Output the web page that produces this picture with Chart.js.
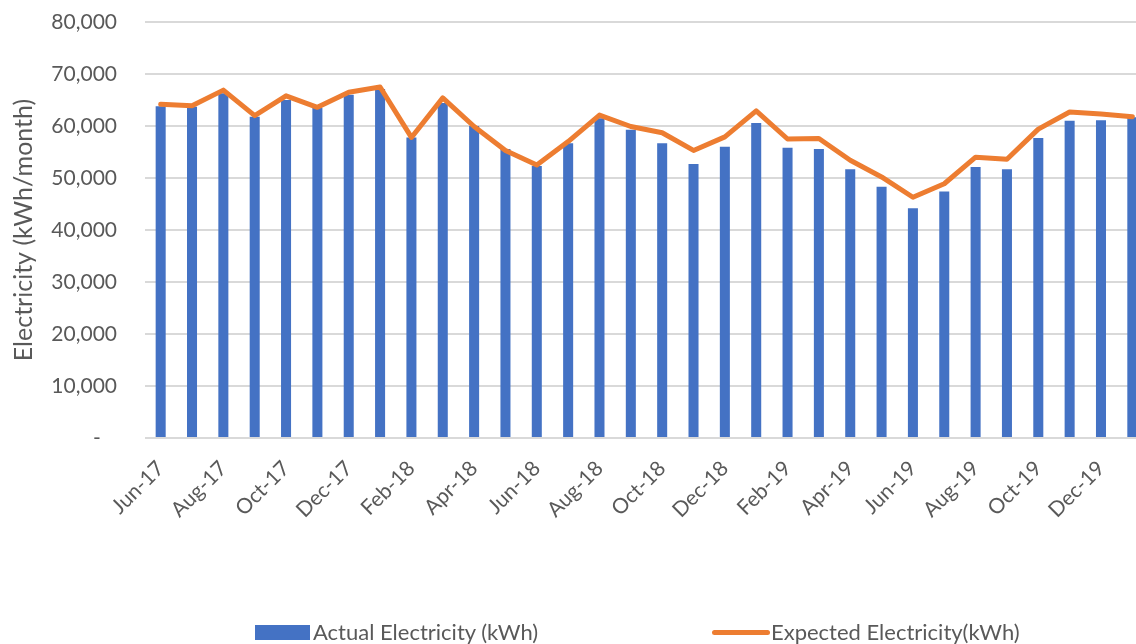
<!DOCTYPE html>
<html>
<head>
<meta charset="utf-8">
<script src="https://cdn.jsdelivr.net/npm/chart.js@4.4.1/dist/chart.umd.min.js"></script>
<style>
  body { margin: 0; background: #fff; overflow: hidden; font-family: Lato, sans-serif; }
  #wrap { position: relative; width: 1136px; height: 644px; overflow: hidden; }
  #chart { position: absolute; left: 0; top: 0; }
  .leg { position: absolute; color: #595959; font-size: 22px; line-height: 22px; white-space: nowrap; }
  .swatch-bar { position: absolute; left: 255px; top: 625px; width: 55px; height: 15px; background: #4472c4; }
  .swatch-line { position: absolute; left: 712px; top: 630px; width: 58px; height: 5px; border-radius: 3px; background: #ed7d31; }
</style>
</head>
<body>
<div id="wrap">
  <canvas id="chart" width="1148" height="644"></canvas>
  <div class="swatch-bar"></div>
  <div class="leg" style="left:313px; top:621px;">Actual Electricity (kWh)</div>
  <div class="swatch-line"></div>
  <div class="leg" style="left:771px; top:621px;">Expected Electricity(kWh)</div>
</div>
<script>
const months = [
  'Jun-17', 'Jul-17', 'Aug-17', 'Sep-17', 'Oct-17', 'Nov-17', 'Dec-17',
  'Jan-18', 'Feb-18', 'Mar-18', 'Apr-18', 'May-18', 'Jun-18', 'Jul-18', 'Aug-18', 'Sep-18', 'Oct-18', 'Nov-18', 'Dec-18',
  'Jan-19', 'Feb-19', 'Mar-19', 'Apr-19', 'May-19', 'Jun-19', 'Jul-19', 'Aug-19', 'Sep-19', 'Oct-19', 'Nov-19', 'Dec-19',
  'Jan-20'
];

const actual = [
  63800, 63700, 66300, 61800, 65000, 63500, 66000,
  67100, 57800, 64400, 60000, 55600, 52300, 56700, 61500, 59300, 56700, 52700, 56000,
  60600, 55800, 55600, 51700, 48300, 44200, 47400, 52100, 51700, 57700, 61000, 61100,
  61700
];

const expected = [
  64200, 63900, 66900, 62000, 65800, 63600, 66500,
  67500, 57800, 65400, 59900, 55300, 52500, 57000, 62100, 59900, 58700, 55300, 57900,
  62900, 57500, 57600, 53400, 50200, 46300, 48900, 54000, 53600, 59400, 62700, 62300,
  61800
];

const yTicks = [0, 10000, 20000, 30000, 40000, 50000, 60000, 70000, 80000];

const textColor = '#595959';
const font = { family: 'Lato', size: 21 };

new Chart(document.getElementById('chart'), {
  type: 'bar',
  data: {
    labels: months,
    datasets: [
      {
        type: 'line',
        label: 'Expected Electricity(kWh)',
        data: expected,
        borderColor: '#ed7d31',
        backgroundColor: '#ed7d31',
        borderWidth: 5,
        pointRadius: 0,
        tension: 0,
        borderJoinStyle: 'round',
        borderCapStyle: 'round',
        order: 0
      },
      {
        label: 'Actual Electricity (kWh)',
        data: actual,
        backgroundColor: '#4472c4',
        borderWidth: 0,
        categoryPercentage: 1,
        barPercentage: 0.32,
        order: 1
      }
    ]
  },
  options: {
    responsive: false,
    animation: false,
    layout: { padding: { top: 22, bottom: 116, left: 0, right: 0 } },
    plugins: {
      legend: { display: false },
      tooltip: { enabled: false }
    },
    scales: {
      x: {
        grid: { display: false },
        border: { display: false },
        ticks: {
          color: textColor,
          font,
          autoSkip: false,
          maxRotation: 45,
          minRotation: 45,
          padding: 10,
          callback: (v, i) => (i % 2 === 0 ? months[i] : '')
        },
        // the plot runs past the right edge of the window, like the source image
        afterFit: s => { s.height = 90; s.paddingRight = 0; }
      },
      y: {
        min: 0,
        max: 80000,
        afterBuildTicks: s => { s.ticks = yTicks.map(v => ({ value: v })); },
        grid: { color: '#d9d9d9', lineWidth: 2, drawTicks: false },
        border: { display: false },
        ticks: {
          color: textColor,
          font,
          padding: 28,
          callback: v => (v === 0 ? '-   ' : v.toLocaleString('en-US'))
        },
        title: {
          display: true,
          text: 'Electricity (kWh/month)',
          color: textColor,
          font: { family: 'Lato', size: 25 },
          padding: { top: 9, bottom: 0 }
        },
        // fixed axis width; drop the label-padding the scale asks for above the plot
        afterFit: s => { s.width = 145; s.paddingTop = 0; s.paddingBottom = 0; }
      }
    }
  }
});
</script>
</body>
</html>
